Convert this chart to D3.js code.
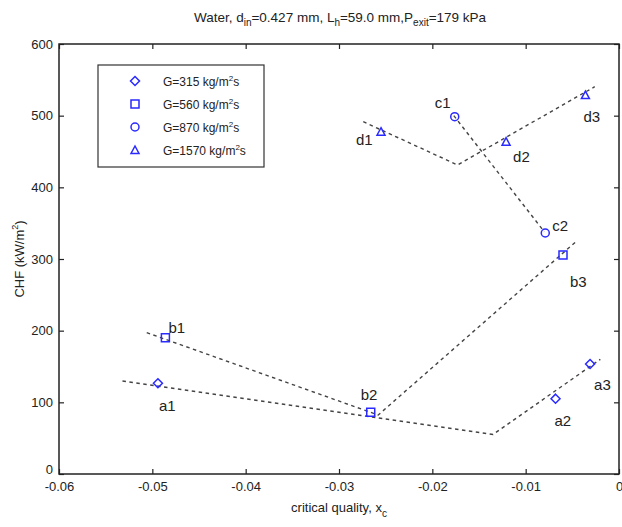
<!DOCTYPE html>
<html>
<head>
<meta charset="utf-8">
<script src="https://cdn.jsdelivr.net/npm/d3@7"></script>
<style>
  body { margin: 0; background: #fff; }
  svg text { font-family: "Liberation Sans", Arial, sans-serif; fill: #222; }
</style>
</head>
<body>
<div id="chart"></div>
<script>
var width = 622, height = 527;

// ticks
var xTicks = [-0.06, -0.05, -0.04, -0.03, -0.02, -0.01, 0];
var xTickLabels = ["-0.06", "-0.05", "-0.04", "-0.03", "-0.02", "-0.01", "0"];
var yTicks = [0, 100, 200, 300, 400, 500, 600];

// legend series
var seriesNames = ["G=315 kg/m", "G=560 kg/m", "G=870 kg/m", "G=1570 kg/m"];
var seriesSymbols = ["diamond", "square", "circle", "triangle"];

// measured points
var pointLabels = ["a1", "a2", "a3", "b1", "b2", "b3", "c1", "c2", "d1", "d2", "d3"];
var pointX = [-0.0494, -0.0068, -0.0031, -0.0486, -0.0266, -0.0060, -0.0176, -0.0079, -0.0255, -0.0121, -0.0036];
var pointY = [126.6, 105.1, 153.5, 190.2, 86.1, 305.6, 498.6, 336.3, 477.6, 463.7, 528.8];
var pointSeries = [0, 0, 0, 1, 1, 1, 2, 2, 3, 3, 3];

// label offsets in px (dx, dy from point)
var labelDx = [1, -1, 4, 3, -10, 7, -20, 7, -25, 7, -2];
var labelDy = [28, 27, 26, -5, -12, 32, -9, -2, 13, 20, 27];

// dashed trend lines (x, y pairs)
var lineA = [[-0.0532, 129.8], [-0.0135, 55.1], [-0.0020, 160.0]];
var lineB = [[-0.0506, 197.2], [-0.0258, 82.3], [-0.0045, 325.5]];
var lineC = [[-0.0177, 500.0], [-0.0080, 338.0]];
var lineD = [[-0.0274, 491.6], [-0.0173, 431.2], [-0.0026, 540.4]];

var svg = d3.select("#chart").append("svg")
    .attr("width", width)
    .attr("height", height);

var x = d3.scaleLinear().domain([-0.06, 0]).range([59, 619]);
var y = d3.scaleLinear().domain([0, 600]).range([474, 44]);

// title
var title = svg.append("text")
    .attr("x", 340).attr("y", 22)
    .attr("text-anchor", "middle")
    .attr("font-size", 13.5);
title.append("tspan").text("Water, d");
title.append("tspan").attr("font-size", 10).attr("dy", 4).text("in");
title.append("tspan").attr("dy", -4).text("=0.427 mm, L");
title.append("tspan").attr("font-size", 10).attr("dy", 4).text("h");
title.append("tspan").attr("dy", -4).text("=59.0 mm,P");
title.append("tspan").attr("font-size", 10).attr("dy", 4).text("exit");
title.append("tspan").attr("dy", -4).text("=179 kPa");

// axes with inward ticks
var xAxis = d3.axisBottom(x).tickValues(xTicks)
    .tickFormat(function(d, i) { return xTickLabels[i]; })
    .tickSizeInner(-5).tickSizeOuter(0).tickPadding(8);
var xTop = d3.axisTop(x).tickValues(xTicks).tickFormat("")
    .tickSizeInner(-5).tickSizeOuter(0);
var yAxis = d3.axisLeft(y).tickValues(yTicks)
    .tickSizeInner(-5).tickSizeOuter(0).tickPadding(6);
var yRight = d3.axisRight(y).tickValues(yTicks).tickFormat("")
    .tickSizeInner(-5).tickSizeOuter(0);

function styleAxis(g) {
    g.select(".domain").remove();
    g.selectAll(".tick line").attr("stroke", "#222").attr("stroke-width", 1.2);
    g.selectAll(".tick text").attr("font-size", 13).attr("fill", "#222");
}

svg.append("g").attr("transform", "translate(0,474)").call(xAxis).call(styleAxis);
svg.append("g").attr("transform", "translate(0,44)").call(xTop).call(styleAxis);
var gy = svg.append("g").attr("transform", "translate(59,0)").call(yAxis).call(styleAxis);
// the 0 label sits a little higher, as in the original
gy.selectAll(".tick text").filter(function(d) { return d === 0; }).attr("y", -5);
svg.append("g").attr("transform", "translate(619,0)").call(yRight).call(styleAxis);

svg.append("rect")
    .attr("x", 59).attr("y", 44)
    .attr("width", 560).attr("height", 430)
    .attr("fill", "none")
    .attr("stroke", "#222")
    .attr("stroke-width", 1.5);

// axis labels
var xl = svg.append("text")
    .attr("x", 339).attr("y", 512)
    .attr("text-anchor", "middle")
    .attr("font-size", 13);
xl.append("tspan").text("critical quality, x");
xl.append("tspan").attr("font-size", 10).attr("dy", 5).text("c");

var yl = svg.append("text")
    .attr("transform", "translate(24,259) rotate(-90)")
    .attr("text-anchor", "middle")
    .attr("font-size", 13);
yl.append("tspan").text("CHF  (kW/m");
yl.append("tspan").attr("font-size", 9).attr("dy", -6).text("2");
yl.append("tspan").attr("dy", 6).text(")");

// dashed lines
var line = d3.line().x(function(d) { return x(d[0]); }).y(function(d) { return y(d[1]); });
[lineA, lineB, lineC, lineD].forEach(function(l) {
    svg.append("path")
        .attr("d", line(l))
        .attr("fill", "none")
        .attr("stroke", "#444")
        .attr("stroke-width", 1.4)
        .attr("stroke-dasharray", "3.5,3.5");
});

// markers
function symbolPath(kind) {
    if (kind == "diamond") return "M0,-4.5L4.5,0L0,4.5L-4.5,0Z";
    if (kind == "square") return "M-4,-4H4V4H-4Z";
    if (kind == "circle") return "M4,0A4,4 0 1,1 -4,0A4,4 0 1,1 4,0Z";
    return "M0,-4L4,3.5H-4Z";
}

var blue = "#2a2aff";

pointLabels.forEach(function(lab, i) {
    svg.append("path")
        .attr("transform", "translate(" + x(pointX[i]) + "," + y(pointY[i]) + ")")
        .attr("d", symbolPath(seriesSymbols[pointSeries[i]]))
        .attr("fill", "none")
        .attr("stroke", blue)
        .attr("stroke-width", 1.5);
    svg.append("text")
        .attr("x", x(pointX[i]) + labelDx[i])
        .attr("y", y(pointY[i]) + labelDy[i])
        .attr("font-size", 15)
        .text(lab);
});

// legend
svg.append("rect")
    .attr("x", 98).attr("y", 65)
    .attr("width", 166).attr("height", 102)
    .attr("fill", "#fff")
    .attr("stroke", "#333")
    .attr("stroke-width", 1.2);

seriesNames.forEach(function(name, i) {
    var cy = 81 + i * 23;
    svg.append("path")
        .attr("transform", "translate(135," + cy + ")")
        .attr("d", symbolPath(seriesSymbols[i]))
        .attr("fill", "none")
        .attr("stroke", blue)
        .attr("stroke-width", 1.5);
    var t = svg.append("text")
        .attr("x", 163).attr("y", cy + 5)
        .attr("font-size", 12);
    t.append("tspan").text(name);
    t.append("tspan").attr("font-size", 8).attr("dy", -5).text("2");
    t.append("tspan").attr("dy", 5).text("s");
});
</script>
</body>
</html>
